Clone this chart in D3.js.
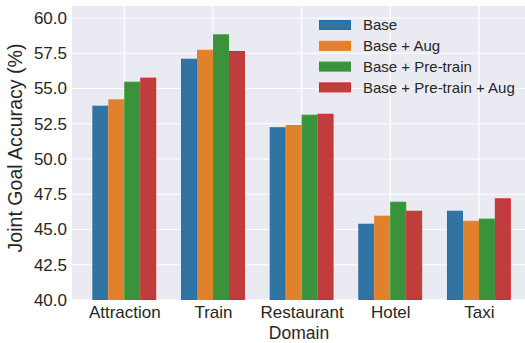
<!DOCTYPE html>
<html>
<head>
<meta charset="utf-8">
<script src="https://cdn.jsdelivr.net/npm/d3@7"></script>
<style>
  body { margin: 0; background: #fff; }
  svg { display: block; font-family: "Liberation Sans", Arial, sans-serif; }
</style>
</head>
<body>
<svg id="chart" width="525" height="343"></svg>
<script>
const domains = ["Attraction", "Train", "Restaurant", "Hotel", "Taxi"]
const seriesNames = ["Base", "Base + Aug", "Base + Pre-train", "Base + Pre-train + Aug"]
const base = [53.78, 57.11, 52.25, 45.41, 46.33]
const baseAug = [54.23, 57.75, 52.41, 45.98, 45.62]
const basePre = [55.48, 58.84, 53.14, 46.97, 45.77]
const basePreAug = [55.77, 57.66, 53.21, 46.33, 47.21]
const yTicks = [40, 42.5, 45, 47.5, 50, 52.5, 55, 57.5, 60]

const series = [base, baseAug, basePre, basePreAug]
const fills = ["#3274a1", "#e1812c", "#3a923a", "#c03d3e"]
const strokes = ["#1f6fb4", "#f07d1a", "#2e9a2e", "#d42a2b"]

const plotL = 72, plotR = 525, plotT = 6, plotB = 300
const barW = 0.18

const svg = d3.select("#chart")

const x = d3.scaleLinear().domain([-0.59, 4.52]).range([plotL, plotR])
const y = d3.scaleLinear().domain([40, 60.85]).range([plotB, plotT])

svg.append("rect")
  .attr("x", plotL).attr("y", plotT)
  .attr("width", plotR - plotL).attr("height", plotB - plotT)
  .attr("fill", "#eaeaf2")

// grid
svg.append("g").selectAll("line")
  .data(yTicks)
  .join("line")
  .attr("x1", plotL).attr("x2", plotR)
  .attr("y1", d => y(d)).attr("y2", d => y(d))
  .attr("stroke", "#fff").attr("stroke-width", 1.2)

svg.append("g").selectAll("line")
  .data(domains)
  .join("line")
  .attr("x1", (d, i) => x(i)).attr("x2", (d, i) => x(i))
  .attr("y1", plotT).attr("y2", plotB)
  .attr("stroke", "#fff").attr("stroke-width", 1.2)

// bars
series.forEach((vals, j) => {
  svg.append("g").selectAll("rect")
    .data(vals)
    .join("rect")
    .attr("x", (d, i) => x(i + (j - 1.5) * barW - barW / 2) + 0.5)
    .attr("width", x(barW) - x(0) - 1)
    .attr("y", d => y(d) + 0.5)
    .attr("height", d => y(40) - y(d) - 1)
    .attr("fill", fills[j])
    .attr("stroke", strokes[j])
    .attr("stroke-width", 1)
})

// y axis
const yAxis = svg.append("g")
  .attr("transform", `translate(${plotL},0)`)
  .call(d3.axisLeft(y).tickValues(yTicks).tickFormat(d3.format(".1f")).tickSize(0).tickPadding(5))
yAxis.select(".domain").remove()
yAxis.selectAll("text").attr("font-size", 17).attr("fill", "#262626")
  .attr("font-family", "Liberation Sans, Arial, sans-serif")

// x axis
const xAxis = svg.append("g")
  .attr("transform", `translate(0,${plotB})`)
  .call(d3.axisBottom(x).tickValues(d3.range(domains.length)).tickFormat(i => domains[i]).tickSize(0).tickPadding(6))
xAxis.select(".domain").remove()
xAxis.selectAll("text").attr("font-size", 17).attr("fill", "#262626")
  .attr("font-family", "Liberation Sans, Arial, sans-serif")

svg.append("text")
  .attr("x", 299).attr("y", 338.5)
  .attr("text-anchor", "middle")
  .attr("font-size", 17.5).attr("fill", "#262626")
  .text("Domain")

svg.append("text")
  .attr("transform", "translate(22,148) rotate(-90)")
  .attr("text-anchor", "middle")
  .attr("font-size", 19.6).attr("fill", "#262626")
  .text("Joint Goal Accuracy (%)")

// legend
const legend = svg.append("g").attr("transform", "translate(319,25)")
const items = legend.selectAll("g")
  .data(seriesNames)
  .join("g")
  .attr("transform", (d, i) => `translate(0,${i * 20.8})`)
items.append("rect")
  .attr("x", 0.5).attr("y", -4.5)
  .attr("width", 31).attr("height", 9)
  .attr("fill", (d, i) => fills[i])
  .attr("stroke", (d, i) => strokes[i])
items.append("text")
  .attr("x", 44).attr("y", 0)
  .attr("dy", "0.35em")
  .attr("font-size", 15).attr("fill", "#262626")
  .text(d => d)
</script>
</body>
</html>
